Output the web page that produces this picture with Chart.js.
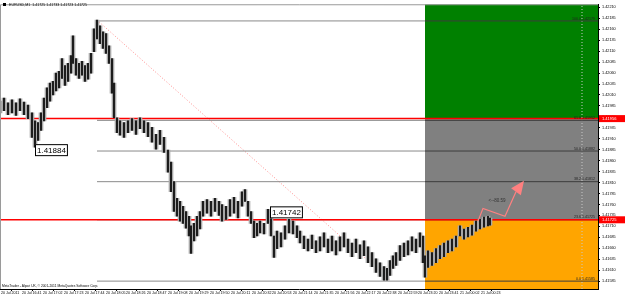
<!DOCTYPE html>
<html>
<head>
<meta charset="utf-8">
<script src="https://cdn.jsdelivr.net/npm/chart.js@4.4.0/dist/chart.umd.min.js"></script>
<style>
  html, body { margin: 0; padding: 0; background: #fff; }
</style>
</head>
<body>
<canvas id="chart" width="625" height="297"></canvas>
<script>
// EURUSD M1 bars (bar index = position on the time axis)
const barIdx = [0,4,8,12,16,20,24,28,32,35,38,41,44,47,50,53,56,59,62,65,68,71,73,76,79,82,85,88,91,94,97,100,103,106,109,112,114,117,120,124,128,132,136,140,144,148,152,156,160,164,168,171,174,177,180,183,186,189,191,194,197,200,203,207,211,215,219,222,226,230,234,238,242,245,248,251,254,257,260,264,268,271,274,277,281,285,289,293,297,300,304,308,312,316,320,324,328,332,336,340,344,348,352,356,360,364,368,372,376,380,384,387,390,393,396,400,404,408,412,416,420,423,425,428,432,436,440,444,448,452,456,460,464,468,472,476,480,484,488,490];
const barHigh = [1.41996,1.42003,1.41992,1.41999,1.41992,1.42001,1.41994,1.41987,1.41969,1.41951,1.41947,1.41969,1.42003,1.42026,1.42037,1.42041,1.42060,1.42064,1.42093,1.42077,1.42082,1.42100,1.42145,1.42093,1.42082,1.42087,1.42077,1.42082,1.42105,1.42161,1.42181,1.42168,1.42154,1.42150,1.42122,1.42093,1.42037,1.41958,1.41951,1.41947,1.41951,1.41956,1.41951,1.41958,1.41951,1.41947,1.41936,1.41920,1.41929,1.41913,1.41884,1.41857,1.41812,1.41774,1.41767,1.41756,1.41744,1.41733,1.41711,1.41717,1.41733,1.41744,1.41767,1.41771,1.41767,1.41774,1.41767,1.41760,1.41756,1.41771,1.41776,1.41767,1.41789,1.41794,1.41767,1.41744,1.41722,1.41717,1.41722,1.41717,1.41749,1.41733,1.41688,1.41699,1.41695,1.41711,1.41726,1.41722,1.41711,1.41699,1.41688,1.41681,1.41690,1.41677,1.41686,1.41695,1.41681,1.41688,1.41677,1.41686,1.41695,1.41681,1.41672,1.41681,1.41668,1.41677,1.41663,1.41650,1.41636,1.41627,1.41618,1.41614,1.41632,1.41643,1.41650,1.41666,1.41672,1.41677,1.41686,1.41681,1.41695,1.41688,1.41643,1.41654,1.41650,1.41659,1.41666,1.41672,1.41677,1.41681,1.41688,1.41711,1.41704,1.41708,1.41713,1.41722,1.41726,1.41731,1.41733,1.41729];
const barLow = [1.41969,1.41974,1.41965,1.41969,1.41963,1.41974,1.41965,1.41956,1.41913,1.41891,1.41906,1.41929,1.41951,1.41981,1.41996,1.42010,1.42019,1.42026,1.42048,1.42032,1.42041,1.42060,1.42082,1.42055,1.42048,1.42055,1.42041,1.42046,1.42060,1.42109,1.42138,1.42127,1.42116,1.42105,1.42082,1.42014,1.41958,1.41924,1.41918,1.41913,1.41924,1.41929,1.41920,1.41933,1.41924,1.41915,1.41902,1.41886,1.41897,1.41879,1.41834,1.41789,1.41744,1.41733,1.41722,1.41717,1.41706,1.41688,1.41648,1.41677,1.41688,1.41704,1.41733,1.41740,1.41733,1.41744,1.41735,1.41722,1.41726,1.41733,1.41740,1.41729,1.41756,1.41767,1.41733,1.41717,1.41684,1.41688,1.41695,1.41693,1.41717,1.41688,1.41639,1.41659,1.41663,1.41681,1.41695,1.41693,1.41684,1.41672,1.41659,1.41654,1.41659,1.41650,1.41654,1.41663,1.41650,1.41654,1.41645,1.41654,1.41663,1.41650,1.41641,1.41650,1.41636,1.41643,1.41627,1.41618,1.41605,1.41596,1.41587,1.41587,1.41598,1.41614,1.41621,1.41632,1.41641,1.41645,1.41654,1.41650,1.41663,1.41627,1.41594,1.41616,1.41621,1.41627,1.41636,1.41641,1.41650,1.41654,1.41663,1.41688,1.41681,1.41686,1.41690,1.41699,1.41704,1.41708,1.41711,1.41713];

// price axis
const priceMin = 1.41567;
const priceMax = 1.42217;
const priceTicks = [1.42210,1.42185,1.42160,1.42135,1.42110,1.42085,1.42060,1.42035,1.42010,1.41985,1.41960,1.41935,1.41910,1.41885,1.41860,1.41835,1.41810,1.41785,1.41760,1.41735,1.41710,1.41685,1.41660,1.41635,1.41610,1.41585];

// time axis
const timePos = [1,22,43,64,85,106,126,147,168,189,210,231,252,272,293,314,335,356,377,398,418,439,460,481];
const timeLabels = ["20 Jul 2011","20 Jul 16:41","20 Jul 17:02","20 Jul 17:23","20 Jul 17:44","20 Jul 18:05","20 Jul 18:26","20 Jul 18:47","20 Jul 19:08","20 Jul 19:29","20 Jul 19:50","20 Jul 20:11","20 Jul 20:32","20 Jul 20:53","20 Jul 21:14","20 Jul 21:35","20 Jul 21:56","20 Jul 22:17","20 Jul 22:38","20 Jul 22:59","20 Jul 23:20","20 Jul 23:41","21 Jul 00:02","21 Jul 00:23"];

// fibonacci retracement
const fibStart = 97;
const fibEnd = 598;
const fibLevels = ["100.0","61.8","50.0","38.2","23.6","0.0"];
const fibPrices = [1.42179,1.41952,1.41882,1.41812,1.41725,1.41585];

// rectangles (zones)
const zoneX0 = 425;
const zoneX1 = 598;
const zoneTop = [1.42217,1.41956,1.41725];
const zoneBottom = [1.41956,1.41725,1.41567];
const zoneColors = ["#008000","#808080","#ffa500"];

// horizontal red lines
const redLines = [1.41956,1.41725];

// trendline
const trendX = [97,390];
const trendY = [1.42181,1.41587];

// vertical dotted line
const vLineX = 582;

// arrow object
const arrowX = [478,483,505,516];
const arrowY = [1.41722,1.41751,1.41733,1.41789];
const arrowTip = {x: 524, y: 1.41814};
const arrowText = {x: 497, y: 1.41769, text: "<--80.59"};

// price labels
const priceLabels = [
  {x: 35, y: 1.41884, text: "1.41884"},
  {x: 270, y: 1.41742, text: "1.41742"}
];

const FONT = "'Liberation Sans', Arial, sans-serif";

const barData = barIdx.map((x, i) => ({x: x, y: [barLow[i], barHigh[i]]}));

const datasets = [];

// light shading behind bars, then the black bars
datasets.push({
  type: "bar",
  label: "shade",
  data: barData,
  backgroundColor: "#a8a8a8",
  barThickness: 4,
  grouped: false,
  order: 2
});
datasets.push({
  type: "bar",
  label: "bars",
  data: barData,
  backgroundColor: "#000",
  barThickness: 1,
  grouped: false,
  order: 1
});

fibPrices.forEach((p, i) => {
  datasets.push({
    type: "line",
    label: "fib " + fibLevels[i],
    data: [{x: fibStart, y: p}, {x: zoneX0, y: p}, {x: fibEnd, y: p}],
    borderColor: "#8a8a8a",
    segment: {
      borderColor: ctx => ctx.p0.parsed.x >= zoneX0 ? "#3c3c3c" : "#8a8a8a"
    },
    borderWidth: 1,
    pointRadius: 0,
    order: 4
  });
});

redLines.forEach(p => {
  datasets.push({
    type: "line",
    label: "red",
    data: [{x: 0, y: p}, {x: 598, y: p}],
    borderColor: "#ff0000",
    borderWidth: 1.5,
    pointRadius: 0,
    order: 3
  });
});

datasets.push({
  type: "line",
  label: "vline",
  data: [{x: vLineX, y: priceMin}, {x: vLineX, y: priceMax}],
  borderColor: "#c8c8c8",
  borderDash: [1, 2],
  borderWidth: 1,
  pointRadius: 0,
  order: 5
});

datasets.push({
  type: "line",
  label: "trend",
  data: trendX.map((x, i) => ({x: x, y: trendY[i]})),
  borderColor: "#ff8c8c",
  borderDash: [1, 2],
  borderWidth: 1,
  pointRadius: 0,
  order: 5
});

datasets.push({
  type: "line",
  label: "arrow",
  data: arrowX.map((x, i) => ({x: x, y: arrowY[i]})),
  borderColor: "#ff8080",
  borderWidth: 1.2,
  pointRadius: 0,
  order: 0
});

const decor = {
  id: "decor",
  beforeDatasetsDraw(chart) {
    const {ctx, chartArea, scales: {x, y}} = chart;
    ctx.save();
    ctx.beginPath();
    ctx.rect(chartArea.left, chartArea.top, chartArea.width, chartArea.height);
    ctx.clip();
    zoneColors.forEach((c, i) => {
      const x0 = x.getPixelForValue(zoneX0);
      const x1 = x.getPixelForValue(zoneX1);
      const y0 = y.getPixelForValue(zoneTop[i]);
      const y1 = y.getPixelForValue(zoneBottom[i]);
      ctx.fillStyle = c;
      ctx.fillRect(x0, y0, x1 - x0, y1 - y0);
    });
    ctx.restore();
  },
  afterDatasetsDraw(chart) {
    const {ctx, scales: {x, y}} = chart;
    ctx.save();
    // arrowhead
    const bx = x.getPixelForValue(arrowX[arrowX.length - 1]);
    const by = y.getPixelForValue(arrowY[arrowY.length - 1]);
    const tx = x.getPixelForValue(arrowTip.x);
    const ty = y.getPixelForValue(arrowTip.y);
    const ang = Math.atan2(ty - by, tx - bx);
    const w = 6;
    ctx.fillStyle = "#ff8080";
    ctx.beginPath();
    ctx.moveTo(tx, ty);
    ctx.lineTo(bx + Math.cos(ang + Math.PI / 2) * w, by + Math.sin(ang + Math.PI / 2) * w);
    ctx.lineTo(bx - Math.cos(ang + Math.PI / 2) * w, by - Math.sin(ang + Math.PI / 2) * w);
    ctx.closePath();
    ctx.fill();

    ctx.fillStyle = "#333";
    ctx.font = "4.5px " + FONT;
    ctx.textAlign = "center";
    ctx.textBaseline = "middle";
    ctx.fillText(arrowText.text, x.getPixelForValue(arrowText.x), y.getPixelForValue(arrowText.y));

    // fib level labels
    ctx.font = "3.6px " + FONT;
    ctx.textAlign = "right";
    ctx.textBaseline = "bottom";
    ctx.fillStyle = "#222";
    fibPrices.forEach((p, i) => {
      ctx.fillText(fibLevels[i] + " " + p.toFixed(5), x.getPixelForValue(fibEnd) - 3, y.getPixelForValue(p) - 0.5);
    });

    // price labels
    ctx.font = "8px " + FONT;
    ctx.textAlign = "left";
    ctx.textBaseline = "middle";
    priceLabels.forEach(l => {
      const px = x.getPixelForValue(l.x);
      const py = y.getPixelForValue(l.y);
      const tw = ctx.measureText(l.text).width;
      ctx.fillStyle = "#fff";
      ctx.fillRect(px, py - 6, tw + 4, 12);
      ctx.strokeStyle = "#000";
      ctx.lineWidth = 1;
      ctx.strokeRect(px + 0.5, py - 5.5, tw + 3, 11);
      ctx.fillStyle = "#000";
      ctx.fillText(l.text, px + 2, py + 0.5);
    });
    ctx.restore();
  },
  afterDraw(chart) {
    const {ctx, chartArea, scales: {y}} = chart;
    ctx.save();
    // frame
    ctx.strokeStyle = "#9a9a9a";
    ctx.lineWidth = 1;
    ctx.beginPath();
    ctx.moveTo(chartArea.left + 0.5, chartArea.bottom);
    ctx.lineTo(chartArea.left + 0.5, chartArea.top + 0.5);
    ctx.lineTo(chartArea.right, chartArea.top + 0.5);
    ctx.stroke();

    // red price labels on the axis
    ctx.font = "4px " + FONT;
    ctx.textAlign = "left";
    ctx.textBaseline = "middle";
    redLines.forEach(p => {
      const py = y.getPixelForValue(p);
      ctx.fillStyle = "#ff0000";
      ctx.fillRect(chartArea.right + 1, py - 3.5, 26, 7);
      ctx.fillStyle = "#fff";
      ctx.fillText(p.toFixed(5), chartArea.right + 4, py);
    });

    // symbol title
    ctx.fillStyle = "#000";
    ctx.fillRect(3, 3, 3, 3);
    ctx.font = "3.6px " + FONT;
    ctx.textBaseline = "middle";
    ctx.fillText("EURUSD,M1  1.41725 1.41733 1.41723 1.41725", 9, 4.5);

    // footer
    ctx.font = "3.3px " + FONT;
    ctx.fillText("MetaTrader - Alpari UK, \u00a9 2001-2011 MetaQuotes Software Corp.", 2, chartArea.bottom - 3);
    ctx.restore();
  }
};

new Chart(document.getElementById("chart"), {
  type: "bar",
  data: {datasets: datasets},
  options: {
    responsive: false,
    animation: false,
    layout: {padding: 0},
    plugins: {legend: {display: false}, tooltip: {enabled: false}},
    scales: {
      x: {
        type: "linear",
        min: 0,
        max: 598,
        offset: false,
        afterFit: s => { s.height = 8; },
        afterBuildTicks: s => { s.ticks = timePos.map(v => ({value: v})); },
        grid: {drawOnChartArea: false, tickLength: 2, color: "#000"},
        border: {color: "#000"},
        ticks: {
          autoSkip: false,
          maxRotation: 0,
          align: "start",
          padding: 0,
          color: "#000",
          font: {family: FONT, size: 3.6},
          callback: (v) => timeLabels[timePos.indexOf(v)]
        }
      },
      y: {
        position: "right",
        min: priceMin,
        max: priceMax,
        afterFit: s => { s.width = 27; },
        afterBuildTicks: s => { s.ticks = priceTicks.map(v => ({value: v})); },
        grid: {drawOnChartArea: false, tickLength: 2, color: "#000"},
        border: {color: "#000"},
        ticks: {
          padding: 2,
          color: "#000",
          font: {family: FONT, size: 3.8},
          callback: v => v.toFixed(5)
        }
      }
    }
  },
  plugins: [decor]
});
</script>
</body>
</html>
